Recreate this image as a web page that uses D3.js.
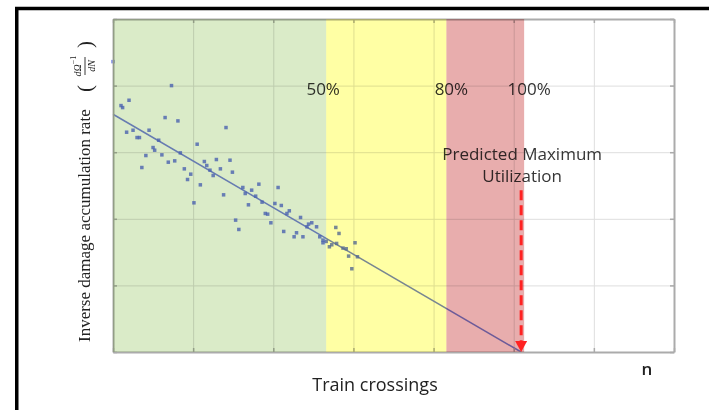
<!DOCTYPE html>
<html>
<head>
<meta charset="utf-8">
<script src="https://cdn.jsdelivr.net/npm/d3@7"></script>
<style>
  html, body { margin: 0; padding: 0; background: #fff; }
  svg { display: block; }
</style>
</head>
<body>
<svg id="chart" width="709" height="410"></svg>
<script>
// Observed train crossings (grid units) and inverse damage accumulation rate
const crossings = [
  0.00, 0.73, 0.10, 0.12, 0.20, 0.65, 0.81, 1.41, 0.17, 0.25,
  0.30, 0.33, 0.45, 0.57, 0.50, 0.52, 0.41, 0.61, 0.36, 0.69,
  0.77, 0.84, 1.05, 0.89, 0.97, 0.93, 1.01, 1.09, 1.14, 1.17,
  1.21, 1.25, 1.29, 1.34, 1.46, 1.49, 1.38, 1.53, 1.57, 1.62,
  1.65, 1.73, 1.82, 1.78, 1.69, 1.86, 1.90, 1.93, 2.02, 2.06,
  2.10, 2.20, 2.17, 1.97, 2.13, 2.29, 2.26, 2.34, 2.37, 2.44,
  2.48, 2.54, 2.42, 2.58, 2.62, 2.62, 2.66, 2.70, 2.73, 2.79,
  2.78, 2.82, 2.87, 2.91, 3.02, 2.94, 3.05, 2.98
];
const rates = [
  4.36, 4.00, 3.70, 3.67, 3.78, 3.52, 3.47, 3.37, 3.30, 3.33,
  3.22, 3.22, 3.33, 3.18, 3.07, 3.03, 2.95, 2.96, 2.77, 2.85,
  2.87, 2.99, 3.12, 2.75, 2.67, 2.59, 2.24, 2.51, 2.86, 2.80,
  2.73, 2.65, 2.89, 2.75, 2.88, 2.70, 2.36, 1.98, 1.84, 2.47,
  2.38, 2.43, 2.52, 2.34, 2.21, 2.25, 2.08, 2.07, 2.23, 2.47,
  2.20, 2.12, 2.08, 1.94, 1.81, 1.79, 1.73, 2.02, 1.73, 1.92,
  1.94, 1.88, 1.88, 1.73, 1.68, 1.64, 1.66, 1.58, 1.61, 1.63,
  1.87, 1.78, 1.56, 1.55, 1.64, 1.44, 1.43, 1.25
];

// Linear trend fitted to the observations
const fitIntercept = 3.57;
const fitSlope = -0.701;

// Utilisation zones along the crossings axis
const zoneEdges = [0, 2.66, 4.16, 5.13];
const zoneLabels = ["50%", "80%", "100%"];

const xTicks = [0, 1, 2, 3, 4, 5, 6, 7];
const yTicks = [0, 1, 2, 3, 4, 5];

// Rate level where the prediction arrow starts
const arrowStart = 2.43;

const zoneFill = ["#daebc8", "#ffffa4", "#e8adad"];

const svg = d3.select("#chart");
const W = 709, H = 410;
const plot = { left: 113, right: 674, top: 19, bottom: 352 };

const x = d3.scaleLinear().domain([0, 7]).range([plot.left, plot.right]);
const y = d3.scaleLinear().domain([0, 5]).range([plot.bottom, plot.top]);

svg.append("rect").attr("width", W).attr("height", H).attr("fill", "#fff");

// Outer frame (only its top and left edges fall inside the view)
svg.append("rect")
  .attr("x", 16.75).attr("y", 8.5)
  .attr("width", 800).attr("height", 500)
  .attr("fill", "none")
  .attr("stroke", "#000")
  .attr("stroke-width", 3.5);

// Grid lines
const grid = svg.append("g").attr("class", "grid");
grid.append("g")
  .attr("transform", `translate(0,${plot.bottom})`)
  .call(d3.axisBottom(x).tickValues(xTicks).tickSize(-(plot.bottom - plot.top)).tickFormat(""))
  .call(g => g.select(".domain").remove());
grid.append("g")
  .attr("transform", `translate(${plot.left},0)`)
  .call(d3.axisLeft(y).tickValues(yTicks).tickSize(-(plot.right - plot.left)).tickFormat(""))
  .call(g => g.select(".domain").remove());
grid.selectAll("line").attr("stroke", "#dedede").attr("stroke-width", 1);

// Trend line down to the predicted maximum
const xEnd = -fitIntercept / fitSlope;
svg.append("line")
  .attr("x1", x(0)).attr("y1", y(fitIntercept))
  .attr("x2", x(xEnd)).attr("y2", y(fitIntercept + fitSlope * xEnd))
  .attr("stroke", "#7886e2")
  .attr("stroke-width", 1.5);

// Observations
const pts = crossings.map((c, i) => ({ c, r: rates[i] }));
svg.append("g").selectAll("rect")
  .data(pts)
  .join("rect")
  .attr("x", d => x(d.c) - 1.75)
  .attr("y", d => y(d.r) - 1.75)
  .attr("width", 3.5).attr("height", 3.5)
  .attr("fill", "#566ae0")
  .attr("opacity", 0.8);

// Axes box with inward ticks
const axisColor = "#ababab";
function styleAxis(g) {
  g.selectAll(".domain").attr("stroke", axisColor).attr("stroke-width", 2);
  g.selectAll(".tick line").attr("stroke", axisColor).attr("stroke-width", 1.5);
}
svg.append("g").attr("transform", `translate(0,${plot.bottom})`)
  .call(d3.axisBottom(x).tickValues(xTicks).tickSize(-4).tickSizeOuter(0).tickFormat(""))
  .call(styleAxis);
svg.append("g").attr("transform", `translate(0,${plot.top})`)
  .call(d3.axisTop(x).tickValues(xTicks).tickSize(-4).tickSizeOuter(0).tickFormat(""))
  .call(styleAxis);
svg.append("g").attr("transform", `translate(${plot.left},0)`)
  .call(d3.axisLeft(y).tickValues(yTicks).tickSize(-4).tickSizeOuter(0).tickFormat(""))
  .call(styleAxis);
svg.append("g").attr("transform", `translate(${plot.right},0)`)
  .call(d3.axisRight(y).tickValues(yTicks).tickSize(-4).tickSizeOuter(0).tickFormat(""))
  .call(styleAxis);

// Zone percentage labels
const sans = "'Open Sans', 'DejaVu Sans', sans-serif";
svg.append("g").selectAll("text")
  .data(zoneLabels)
  .join("text")
  .attr("x", (d, i) => x(zoneEdges[i + 1]) + (i === 0 ? -3 : 5))
  .attr("y", 95)
  .attr("text-anchor", "middle")
  .attr("font-family", sans)
  .attr("font-size", 17)
  .attr("fill", "#333")
  .text(d => d);

// Prediction annotation
const note = svg.append("text")
  .attr("x", x(xEnd) + 1)
  .attr("text-anchor", "middle")
  .attr("font-family", sans)
  .attr("font-size", 17)
  .attr("fill", "#363636");
note.append("tspan").attr("x", x(xEnd) + 1).attr("y", 160).text("Predicted Maximum");
note.append("tspan").attr("x", x(xEnd) + 1).attr("y", 182).text("Utilization");

// Translucent utilisation zones blended over the plot
svg.append("g").selectAll("rect")
  .data(zoneLabels)
  .join("rect")
  .attr("x", (d, i) => x(zoneEdges[i]))
  .attr("y", plot.top)
  .attr("width", (d, i) => x(zoneEdges[i + 1]) - x(zoneEdges[i]))
  .attr("height", plot.bottom - plot.top)
  .attr("fill", (d, i) => zoneFill[i])
  .style("mix-blend-mode", "multiply");

// Dashed arrow marking the predicted maximum utilisation
const ax = x(xEnd);
svg.append("line")
  .attr("x1", ax).attr("y1", y(arrowStart))
  .attr("x2", ax).attr("y2", y(0) - 9)
  .attr("stroke", "#ff2222")
  .attr("stroke-width", 3)
  .attr("stroke-dasharray", "10,5");
svg.append("path")
  .attr("d", `M${ax - 6},${y(0) - 11} L${ax + 6},${y(0) - 11} L${ax},${y(0)} Z`)
  .attr("fill", "#ff2222");

// Axis titles
svg.append("text")
  .attr("x", 375).attr("y", 391)
  .attr("text-anchor", "middle")
  .attr("font-family", sans)
  .attr("font-size", 18)
  .attr("fill", "#222")
  .text("Train crossings");

svg.append("text")
  .attr("x", 647).attr("y", 375)
  .attr("text-anchor", "middle")
  .attr("font-family", sans)
  .attr("font-size", 17)
  .attr("font-weight", 600)
  .attr("fill", "#222")
  .text("n");

// Vertical y-axis title with the derivative fraction
const serif = "'Liberation Serif', 'DejaVu Serif', serif";
const yl = svg.append("g")
  .attr("transform", "translate(90,342) rotate(-90)")
  .attr("font-family", serif)
  .attr("fill", "#222");
yl.append("text")
  .attr("x", 0).attr("y", 0)
  .attr("font-size", 17)
  .text("Inverse damage accumulation rate");
yl.append("text")
  .attr("x", 250).attr("y", 2)
  .attr("font-size", 21)
  .text("(");
const fx = 276;
const num = yl.append("text")
  .attr("x", fx).attr("y", -9)
  .attr("text-anchor", "middle")
  .attr("font-size", 10)
  .attr("font-style", "italic");
num.append("tspan").text("dΩ");
num.append("tspan").attr("dy", -5).attr("font-size", 8).attr("font-style", "normal").text("−1");
yl.append("line")
  .attr("x1", fx - 9).attr("x2", fx + 9)
  .attr("y1", -5).attr("y2", -5)
  .attr("stroke", "#222").attr("stroke-width", 0.9);
yl.append("text")
  .attr("x", fx).attr("y", 5)
  .attr("text-anchor", "middle")
  .attr("font-size", 10)
  .attr("font-style", "italic")
  .text("dN");
yl.append("text")
  .attr("x", 294).attr("y", 2)
  .attr("font-size", 21)
  .text(")");
</script>
</body>
</html>
